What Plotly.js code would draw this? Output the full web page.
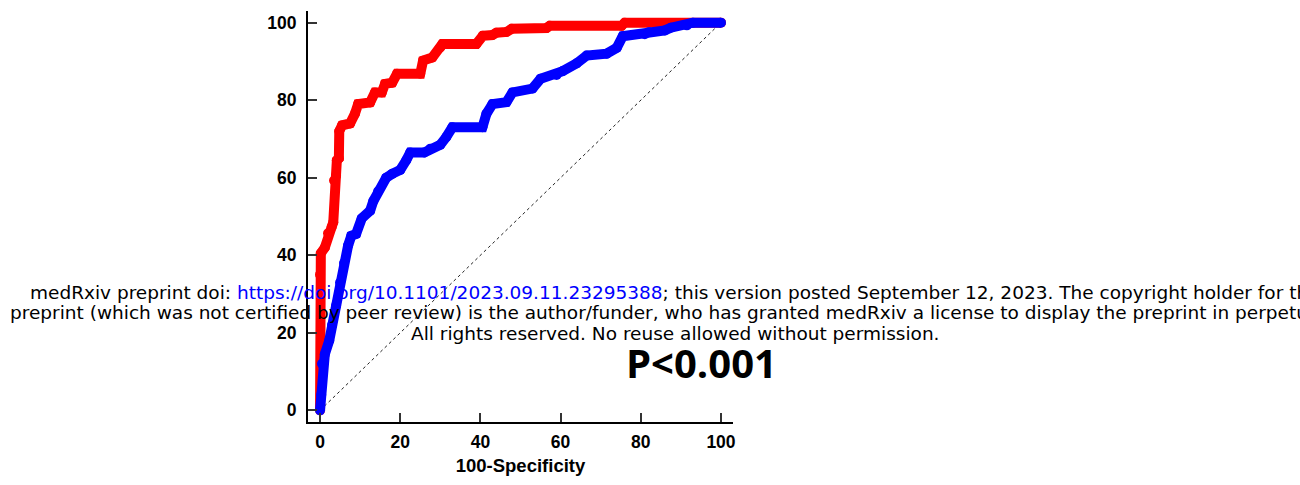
<!DOCTYPE html>
<html>
<head>
<meta charset="utf-8">
<script src="https://cdn.plot.ly/plotly-3.0.1.min.js"></script>
<style>
  html, body { margin: 0; padding: 0; background: #ffffff; }
  #chart { width: 1300px; height: 485px; }
</style>
</head>
<body>
<div id="chart"></div>
<script>
// ---- data ----
const tickVals = [0, 20, 40, 60, 80, 100];

const diagX = [0, 100];
const diagY = [0, 100];

const redFpr = [0, 0, 0.2, 1.2, 2, 2.9, 3.3, 3.5, 4, 4.2, 4.7, 4.8, 5.5, 7.5, 8.7, 9.5, 12.5, 13.7, 15.4, 16.2, 18, 19.2, 25, 25.7, 28, 30, 30.5, 39, 40.6, 43, 44, 46.5, 47.8, 56.5, 57.3, 75.2, 76, 100];
const redTpr = [0, 35, 40.5, 42, 45.7, 47.3, 48.5, 59.3, 60.5, 64.5, 65, 72, 73.5, 74, 76.5, 79, 79.4, 82, 82, 84.2, 84.5, 86.8, 86.8, 90.2, 91, 93.6, 94.5, 94.5, 96.6, 96.8, 97.4, 97.6, 98.4, 98.6, 99.2, 99.2, 100, 100];

const blueFpr = [0, 0.3, 0.5, 1.2, 2.3, 3, 4, 5, 6, 7, 7.8, 9, 10.4, 12.5, 13.3, 14.5, 16.5, 18, 20, 21.5, 22.5, 26, 27.5, 30, 31.5, 33, 40.5, 41.5, 43, 46.5, 48, 53, 55, 59, 60.5, 64, 66.5, 71.5, 74, 75.5, 81, 82, 86, 87.5, 91.5, 93, 100];
const blueTpr = [0, 4, 12, 14.5, 18, 22, 27, 33, 38, 42.5, 45, 45.5, 49.5, 51.5, 54, 56.5, 60, 61, 62, 64.5, 66.5, 66.5, 67.5, 68.5, 70.5, 73, 73, 76.5, 79, 79.5, 82, 83, 85.5, 86.5, 87.5, 89.5, 91.5, 92, 93.5, 96.5, 97, 97.5, 98, 98.7, 99.3, 100, 100];

const xTitle = "100-Specificity";
const pText = "P<0.001";
const wmLine1 = 'medRxiv preprint doi: <span style="color:#0000ff">https://doi.org/10.1101/2023.09.11.23295388</span>; this version posted September 12, 2023. The copyright holder for this';
const wmLine2 = 'preprint (which was not certified by peer review) is the author/funder, who has granted medRxiv a license to display the preprint in perpetuity.';
const wmLine3 = 'All rights reserved. No reuse allowed without permission.';

// ---- layout geometry ----
const W = 1300, H = 485;
const M = { l: 308, r: 567, t: 11, b: 63 };
const plotW = W - M.l - M.r;   // 425
const plotH = H - M.t - M.b;   // 411
const px2paperX = px => (px - M.l) / plotW;
const px2paperY = py => (H - M.b - py) / plotH;

const tickFont = { family: 'Liberation Sans, Arial, sans-serif', size: 17.5, color: '#000', weight: 700 };
const wmFont = { family: 'DejaVu Sans, Arial, sans-serif', size: 18.5, color: '#000' };

const traces = [
  {
    x: diagX, y: diagY, type: 'scatter', mode: 'lines',
    line: { color: '#222', width: 1, dash: 'dot' },
    hoverinfo: 'skip', showlegend: false
  },
  {
    x: redFpr, y: redTpr, type: 'scatter', mode: 'lines+markers',
    line: { color: '#ff0000', width: 10 },
    marker: { color: '#ff0000', size: 10 },
    showlegend: false
  },
  {
    x: blueFpr, y: blueTpr, type: 'scatter', mode: 'lines+markers',
    line: { color: '#0000ff', width: 10 },
    marker: { color: '#0000ff', size: 10 },
    showlegend: false
  }
];

const axisCommon = {
  range: [-3, 103],
  tickmode: 'array',
  tickvals: tickVals,
  ticktext: tickVals.map(String),
  ticks: 'inside',
  ticklen: 9,
  tickwidth: 2,
  tickcolor: '#333',
  showline: true,
  linewidth: 2,
  linecolor: '#000',
  showgrid: false,
  zeroline: false,
  tickfont: tickFont,
  automargin: false,
  fixedrange: true
};

const layout = {
  width: W, height: H,
  margin: M,
  paper_bgcolor: '#ffffff',
  plot_bgcolor: '#ffffff',
  showlegend: false,
  xaxis: Object.assign({}, axisCommon, {
    ticklabelstandoff: 3,
    title: { text: xTitle, font: { family: 'Liberation Sans, Arial, sans-serif', size: 18.5, color: '#000', weight: 700 }, standoff: 8 }
  }),
  yaxis: Object.assign({}, axisCommon, {
    ticklabelstandoff: 6
  }),
  annotations: [
    { text: wmLine1, xref: 'paper', yref: 'paper', x: px2paperX(28), y: px2paperY(292),
      xanchor: 'left', yanchor: 'middle', showarrow: false, font: wmFont },
    { text: wmLine2, xref: 'paper', yref: 'paper', x: px2paperX(8), y: px2paperY(312),
      xanchor: 'left', yanchor: 'middle', showarrow: false, font: wmFont },
    { text: wmLine3, xref: 'paper', yref: 'paper', x: px2paperX(409), y: px2paperY(333),
      xanchor: 'left', yanchor: 'middle', showarrow: false, font: wmFont },
    { text: pText, xref: 'paper', yref: 'paper', x: px2paperX(701), y: px2paperY(362),
      xanchor: 'center', yanchor: 'middle', showarrow: false,
      font: { family: 'Open Sans, Arial, sans-serif', size: 40, color: '#000', weight: 700 } }
  ]
};

Plotly.newPlot('chart', traces, layout, { displayModeBar: false, staticPlot: true });
</script>
</body>
</html>
